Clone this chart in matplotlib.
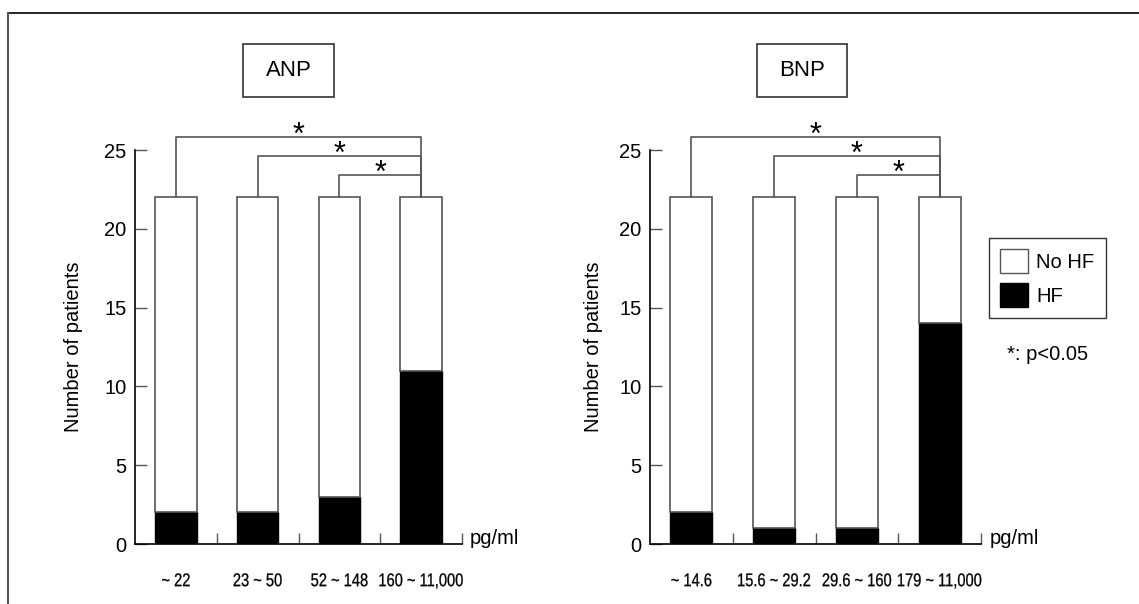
import matplotlib.pyplot as plt
from matplotlib.lines import Line2D
from matplotlib.patches import Rectangle, Patch, PathPatch
from matplotlib.textpath import TextPath
from matplotlib.font_manager import FontProperties
from matplotlib.transforms import Affine2D, ScaledTranslation, blended_transform_factory
import numpy as np

plt.rcParams['font.family'] = ['Liberation Sans', 'DejaVu Sans']

# data
anp_labels = ["~ 22", "23 ~ 50", "52 ~ 148", "160 ~ 11,000"]
anp_hf = [2, 2, 3, 11]
anp_total = [22, 22, 22, 22]

bnp_labels = ["~ 14.6", "15.6 ~ 29.2", "29.6 ~ 160", "179 ~ 11,000"]
bnp_hf = [2, 1, 1, 14]
bnp_total = [22, 22, 22, 22]

# significance brackets: (from group, to group, level)
brackets = [(0, 3, 25.8), (1, 3, 24.6), (2, 3, 23.4)]

W, H = 1139, 604
fig = plt.figure(figsize=(W / 100, H / 100), dpi=100)

edge = "#555555"
fp = FontProperties(family="Liberation Sans")


def narrow_label(ax, x, y, s, size=13.2, sx=0.8):
    # condensed text: the original uses a narrow face
    tp = TextPath((0, 0), s, size=size, prop=fp)
    ext = tp.get_extents()
    k = fig.dpi / 72
    tr = (Affine2D().translate(-(ext.x0 + ext.width / 2), 0).scale(sx * k, k)
          + ScaledTranslation(x, y, blended_transform_factory(ax.transData, ax.transAxes)))
    ax.add_patch(PathPatch(tp, transform=tr, facecolor="black", edgecolor="black",
                           lw=0.2, clip_on=False))


def panel(rect, labels, hf, total, name, box_x, ylab_x):
    ax = fig.add_axes(rect)
    x = np.arange(len(labels))
    hf = np.array(hf)
    nohf = np.array(total) - hf
    ax.bar(x, hf, width=0.51, color="black", edgecolor="black", linewidth=1.0)
    ax.bar(x, nohf, bottom=hf, width=0.51, color="white", edgecolor=edge, linewidth=1.2)

    ax.set_xlim(-0.5, 3.5)
    ax.set_ylim(0, 25)
    for s in ["top", "right"]:
        ax.spines[s].set_visible(False)
    ax.spines["left"].set_linewidth(1.2)
    ax.spines["bottom"].set_linewidth(1.2)

    ax.set_yticks([0, 5, 10, 15, 20, 25])
    ax.tick_params(axis="y", direction="in", length=8.5, width=1.0, color=edge,
                   labelsize=14.5, pad=6)
    # separator ticks on the x axis
    ax.set_xticks([0.5, 1.5, 2.5, 3.5])
    ax.set_xticklabels([])
    ax.tick_params(axis="x", which="major", direction="in", length=8, width=1.0, color=edge)
    for xi, lab in zip(x, labels):
        narrow_label(ax, xi, -0.107, lab)

    ax.set_ylabel("Number of patients", fontsize=14.5)
    ax.yaxis.set_label_coords(ylab_x, 0.5)

    ax.text(3.6, 0.35, "pg/ml", fontsize=14.5, ha="left", va="center")

    top = max(total)
    for a, b, lvl in brackets:
        ax.plot([a, a, b, b], [top, lvl, lvl, top], color=edge, lw=1.2, clip_on=False)
        ax.text((a + b) / 2, lvl - 0.4, "*", fontsize=22, ha="center", va="baseline")

    # title box
    bx0, bx1, by0, by1 = box_x[0], box_x[1], 44, 97
    fig.add_artist(Rectangle((bx0 / W, 1 - by1 / H), (bx1 - bx0) / W, (by1 - by0) / H,
                             transform=fig.transFigure, fill=False, edgecolor="#333333", lw=1.2))
    fig.text((bx0 + bx1) / 2 / W, 1 - (by0 + by1) / 2 / H, name, fontsize=16,
             ha="center", va="center")
    return ax


panel([135 / W, 1 - 544 / H, 327 / W, 394 / H], anp_labels, anp_hf, anp_total, "ANP",
      (243, 334), -0.159)
panel([650 / W, 1 - 544 / H, 331 / W, 394 / H], bnp_labels, bnp_hf, bnp_total, "BNP",
      (757, 847), -0.142)

# legend
handles = [Patch(facecolor="white", edgecolor=edge, label="No HF"),
           Patch(facecolor="black", edgecolor="black", label="HF")]
leg = fig.legend(handles=handles, loc="upper left", bbox_to_anchor=(989 / W, 1 - 238 / H),
                 borderaxespad=0, fontsize=14.5, frameon=True, fancybox=False,
                 handlelength=1.4, handleheight=1.45, borderpad=0.55, labelspacing=0.5,
                 handletextpad=0.4)
leg.get_frame().set_edgecolor("black")
leg.get_frame().set_linewidth(1.0)

fig.text(1007 / W, 1 - 355 / H, "*: p<0.05", fontsize=14.5, ha="left", va="center")

# outer frame lines
fig.add_artist(Line2D([8 / W, 1], [1 - 13 / H, 1 - 13 / H], color="black", lw=1.2,
                      transform=fig.transFigure))
fig.add_artist(Line2D([8 / W, 8 / W], [0, 1 - 13 / H], color="#555555", lw=1.5,
                      transform=fig.transFigure))

fig.savefig("out.png", dpi=100)
